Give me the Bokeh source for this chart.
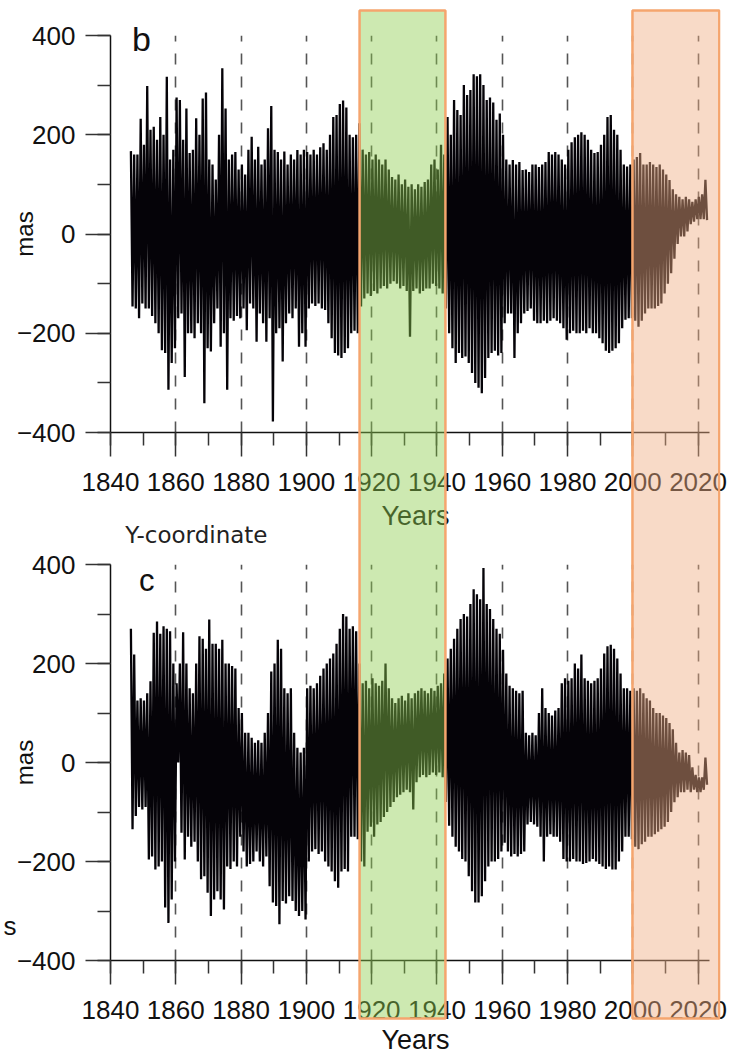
from bokeh.plotting import figure
from bokeh.models import (BoxAnnotation, Label, SingleIntervalTicker, FixedTicker,
                          LinearAxis, Range1d)
from bokeh.layouts import column
from bokeh.embed import file_html
from bokeh.resources import INLINE

# ---------------- data ----------------
years = list(range(1846, 2023))

# panel b: yearly upper / lower extremes (mas)
b_upper = [167, 160, 160, 232, 180, 298, 210, 216, 190, 236,
           200, 317, 150, 170, 275, 270, 190, 253, 163, 170,
           233, 200, 273, 285, 150, 140, 110, 200, 334, 253,
           150, 160, 165, 130, 140, 120, 170, 196, 150, 176,
           140, 150, 213, 258, 170, 165, 150, 166, 140, 160,
           150, 169, 160, 170, 165, 160, 170, 160, 175, 183,
           170, 200, 236, 240, 262, 269, 255, 200, 195, 200,
           223, 170, 160, 165, 150, 160, 150, 140, 150, 130,
           115, 110, 120, 100, 110, 95, 100, 90, 100, 95,
           105, 110, 140, 150, 130, 180, 160, 236, 200, 270,
           250, 240, 300, 280, 290, 322, 318, 322, 300, 270,
           275, 265, 230, 243, 200, 150, 140, 149, 140, 145,
           129, 130, 125, 140, 140, 135, 140, 145, 165, 160,
           165, 160, 150, 140, 170, 185, 195, 200, 205, 200,
           190, 170, 163, 165, 180, 200, 236, 240, 210, 200,
           170, 140, 136, 140, 150, 155, 163, 140, 140, 145,
           140, 135, 140, 130, 120, 109, 90, 80, 75, 70,
           75, 70, 65, 70, 75, 80, 109]
b_lower = [-146, -150, -170, -140, -150, -150, -165, -180, -200, -234,
           -240, -314, -260, -230, -170, -160, -288, -200, -200, -210,
           -180, -200, -341, -230, -237, -180, -150, -227, -200, -314,
           -170, -175, -165, -170, -150, -194, -140, -150, -217, -160,
           -180, -217, -170, -378, -200, -190, -257, -180, -160, -170,
           -150, -227, -200, -227, -150, -140, -145, -140, -150, -153,
           -180, -210, -240, -245, -250, -240, -230, -200, -195, -200,
           -146, -130, -120, -125, -115, -120, -110, -105, -110, -100,
           -95, -100, -110, -105, -115, -207, -115, -110, -120, -115,
           -110, -110, -100, -105, -110, -120, -150, -200, -230, -260,
           -240, -250, -247, -260, -280, -300, -310, -321, -290, -250,
           -240, -235, -245, -240, -180, -160, -160, -250, -200, -180,
           -160, -155, -150, -175, -180, -180, -175, -180, -175, -170,
           -175, -180, -190, -213, -200, -195, -200, -200, -195, -200,
           -190, -200, -200, -210, -220, -235, -240, -235, -230, -220,
           -190, -173, -170, -170, -175, -187, -175, -160, -150, -150,
           -150, -145, -140, -120, -100, -79, -50, -20, -5, -5,
           5, 20, 25, 30, 30, 30, 28]

# panel c: yearly upper / lower extremes (mas)
c_upper = [270, 218, 125, 130, 125, 140, 164, 262, 285, 260,
           275, 270, 265, 200, 160, 200, 263, 200, 150, 140,
           200, 255, 250, 230, 289, 240, 240, 230, 248, 200,
           200, 195, 190, 110, 100, 60, 60, 50, 40, 45,
           40, 60, 100, 184, 200, 248, 230, 150, 140, 150,
           60, 30, 20, 30, 150, 155, 150, 160, 175, 190,
           200, 210, 220, 240, 270, 300, 295, 270, 275, 265,
           200, 160, 165, 150, 170, 160, 155, 165, 200, 150,
           130, 120, 130, 135, 125, 140, 130, 140, 145, 150,
           145, 140, 150, 145, 155, 160, 180, 210, 230, 250,
           270, 290, 300, 295, 320, 350, 340, 330, 393, 320,
           310, 290, 270, 260, 228, 180, 155, 150, 145, 140,
           145, 60, 55, 60, 55, 100, 150, 110, 100, 95,
           105, 110, 160, 170, 165, 170, 200, 190, 218, 170,
           165, 160, 165, 170, 190, 220, 235, 238, 230, 210,
           180, 150, 150, 145, 150, 145, 150, 140, 130, 125,
           110, 100, 100, 95, 90, 80, 67, 40, 20, 25,
           20, 15, -10, -25, -30, -30, 10]
c_lower = [-135, -108, -90, -95, -90, -196, -190, -216, -210, -200,
           -293, -324, -277, -200, 0, -142, -196, -150, -170, -160,
           -200, -236, -230, -263, -310, -277, -260, -277, -297, -210,
           -215, -200, -210, -150, -180, -210, -205, -200, -180, -200,
           -210, -190, -250, -283, -290, -327, -280, -285, -270, -280,
           -300, -310, -300, -317, -200, -180, -175, -185, -180, -200,
           -210, -220, -240, -253, -220, -215, -220, -150, -150, -155,
           -200, -210, -140, -130, -150, -125, -120, -110, -100, -90,
           -80, -70, -65, -60, -55, -60, -95, -40, -30, -25,
           -30, -25, -20, -25, -20, -30, -80, -128, -150, -170,
           -180, -195, -200, -230, -260, -283, -283, -270, -240, -210,
           -200, -200, -195, -180, -162, -180, -190, -185, -190, -185,
           -180, -125, -120, -125, -130, -150, -200, -150, -145, -150,
           -150, -160, -195, -200, -200, -195, -200, -200, -205, -203,
           -200, -195, -200, -205, -210, -215, -210, -216, -216, -200,
           -180, -150, -150, -155, -170, -175, -165, -160, -150, -150,
           -145, -140, -135, -130, -120, -100, -80, -70, -60, -60,
           -55, -60, -55, -60, -60, -55, -45]

green_period = [1916.3, 1942.6]
peach_period = [1999.9, 2026.5]
panel_letters = ["b", "c"]
x_label = "Years"
y_label = "mas"
subtitle = "Y-coordinate"
stray_text = "s"

FONT = "Liberation Sans"
AXIS_END = 2023.5                     # where the x axis line stops
LEFT, RIGHT = 110, 14
FRAME_W = 734 - LEFT - RIGHT          # 610 px
PX_PER_YEAR = 599 / (AXIS_END - 1840)
X0, X1 = 1840, 1840 + FRAME_W / PX_PER_YEAR
PAGE_H = 1056
BOTTOM_BORDER = 110


def zigzag(up, lo):
    xs, ys = [], []
    for yr, u, l in zip(years, up, lo):
        xs.extend([yr + 0.25, yr + 0.75])
        ys.extend([u, l])
    return xs, ys


def make_panel(up, lo, frame_h, top_border, xlabel_standoff):
    p = figure(frame_width=FRAME_W, frame_height=frame_h,
               x_range=Range1d(X0, X1), y_range=Range1d(-400, 400),
               min_border_left=LEFT, min_border_right=RIGHT,
               min_border_top=top_border, min_border_bottom=BOTTOM_BORDER,
               output_backend="svg", toolbar_location=None,
               background_fill_color="white", border_fill_color="white")
    p.outline_line_color = None

    xa = p.xaxis[0]
    xa.bounds = (1840, AXIS_END)
    xa.ticker = SingleIntervalTicker(interval=20, num_minor_ticks=2)
    xa.axis_label = x_label
    xa.axis_label_text_font = FONT
    xa.axis_label_text_font_size = "27px"
    xa.axis_label_text_font_style = "normal"
    xa.axis_label_text_color = "#111111"
    xa.axis_label_standoff = xlabel_standoff
    xa.major_label_text_font = FONT
    xa.major_label_text_font_size = "26px"
    xa.major_label_text_color = "#111111"
    xa.major_label_standoff = 16
    xa.major_tick_out = 24
    xa.major_tick_in = 0
    xa.minor_tick_out = 13
    xa.minor_tick_in = 0
    xa.axis_line_color = "#111111"
    xa.axis_line_width = 1.5
    xa.major_tick_line_color = "#333333"
    xa.major_tick_line_width = 1.5
    xa.minor_tick_line_color = "#333333"
    xa.minor_tick_line_width = 1.5

    ya = p.yaxis[0]
    ya.ticker = SingleIntervalTicker(interval=200, num_minor_ticks=2)
    ya.axis_label = y_label
    ya.axis_label_text_font = FONT
    ya.axis_label_text_font_size = "24px"
    ya.axis_label_text_font_style = "normal"
    ya.axis_label_text_color = "#111111"
    ya.axis_label_standoff = -24
    ya.major_label_text_font = FONT
    ya.major_label_text_font_size = "26px"
    ya.major_label_text_color = "#111111"
    ya.major_label_standoff = 10
    ya.major_tick_out = 25
    ya.major_tick_in = 0
    ya.minor_tick_out = 13
    ya.minor_tick_in = 0
    ya.axis_line_color = "#111111"
    ya.axis_line_width = 1.5
    ya.major_tick_line_color = "#333333"
    ya.major_tick_line_width = 1.5
    ya.minor_tick_line_color = "#333333"
    ya.minor_tick_line_width = 1.5

    p.ygrid.visible = False
    p.xgrid.grid_line_color = "#555555"
    p.xgrid.grid_line_dash = "11 12"
    p.xgrid.grid_line_width = 1.6

    xs, ys = zigzag(up, lo)
    p.line(xs, ys, line_color="#050308", line_width=2.3)
    return p


p1 = make_panel(b_upper, b_lower, 397, 35, 7)
h1 = 35 + 397 + BOTTOM_BORDER
p2 = make_panel(c_upper, c_lower, 396, 564 - h1, 3)
h2 = (564 - h1) + 396 + BOTTOM_BORDER

# transparent overlay page: shaded periods + free texts (y = page pixel row)
p3 = figure(frame_width=FRAME_W, frame_height=PAGE_H,
            min_border_left=LEFT, min_border_right=RIGHT,
            min_border_top=0, min_border_bottom=0,
            x_range=Range1d(X0, X1), y_range=Range1d(PAGE_H, 0),
            x_axis_type=None, y_axis_type=None,
            output_backend="svg", toolbar_location=None,
            background_fill_alpha=0, border_fill_alpha=0)
p3.outline_line_color = None

for (l, r), fc, fa in ((green_period, "#8ECC4D", 0.44), (peach_period, "#EFAE82", 0.45)):
    p3.add_layout(BoxAnnotation(left=l, right=r, bottom=1018, top=10,
                                fill_color=fc, fill_alpha=fa,
                                line_color="#F5A56E", line_width=2.5, line_alpha=1.0))

p3.add_layout(Label(x=1846.6, y=57, text=panel_letters[0], text_font=FONT,
                    text_font_size="34px", text_color="#111111"))
p3.add_layout(Label(x=1848.7, y=597, text=panel_letters[1], text_font=FONT,
                    text_font_size="31px", text_color="#111111"))
p3.add_layout(Label(x=1844.5, y=547, text=subtitle, text_font="DejaVu Sans",
                    text_font_size="23px", text_color="#222222"))

# the stray "s" at the far left edge, written as a lone tick label of a bare axis
s_axis = LinearAxis(ticker=FixedTicker(ticks=[925]),
                    major_label_overrides={925: stray_text},
                    major_label_text_font=FONT, major_label_text_font_size="26px",
                    major_label_text_color="#111111", major_label_standoff=94,
                    major_tick_out=0, major_tick_in=0,
                    axis_line_color=None, major_tick_line_color=None,
                    minor_tick_line_color=None)
p3.add_layout(s_axis, "left")

p3.margin = (-(h1 + h2), 0, 0, 0)

layout = column(p1, p2, p3, spacing=0, styles={"overflow": "hidden"})
open("out.html", "w").write(file_html(layout, INLINE))
